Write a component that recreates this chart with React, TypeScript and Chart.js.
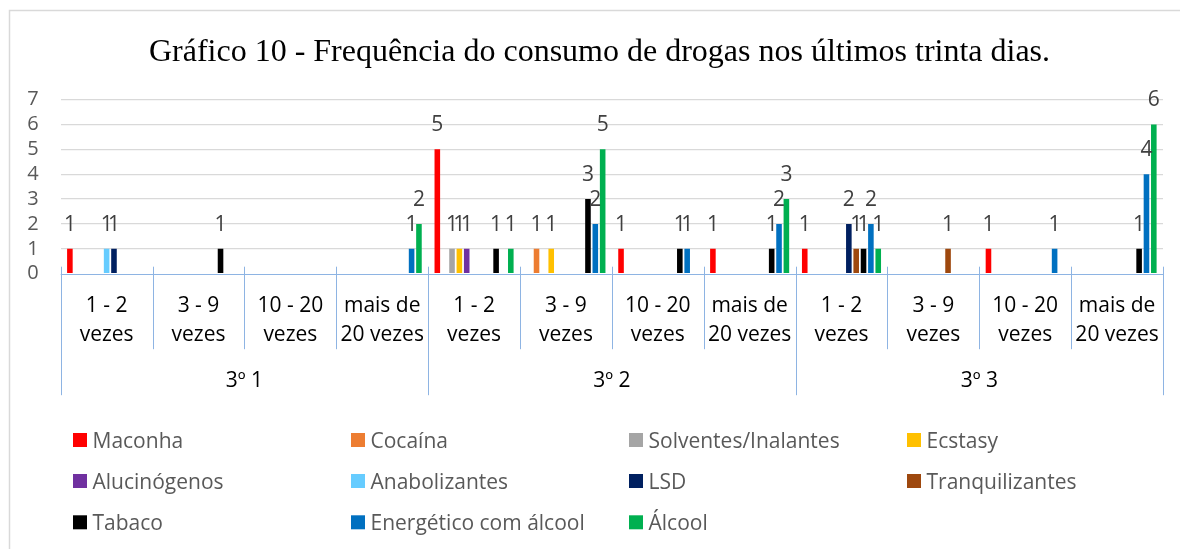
import React, { useEffect, useRef } from "react";
import { Chart, registerables } from "chart.js";

Chart.register(...registerables);

const TITLE = "Gráfico 10 - Frequência do consumo de drogas nos últimos trinta dias.";
const groups = ["3º 1", "3º 2", "3º 3"];
const subLabels = [
  ["1 - 2", "vezes"],
  ["3 - 9", "vezes"],
  ["10 - 20", "vezes"],
  ["mais de", "20 vezes"],
];
const yTicks = [0, 1, 2, 3, 4, 5, 6, 7];

const seriesNames = [
  "Maconha",
  "Cocaína",
  "Solventes/Inalantes",
  "Ecstasy",
  "Alucinógenos",
  "Anabolizantes",
  "LSD",
  "Tranquilizantes",
  "Tabaco",
  "Energético com álcool",
  "Álcool",
];
const seriesColors = [
  "#FF0000",
  "#ED7D31",
  "#A5A5A5",
  "#FFC000",
  "#7030A0",
  "#66CCFF",
  "#002060",
  "#9E480E",
  "#000000",
  "#0070C0",
  "#00B050",
];

// 12 categories: 3º1 (1-2, 3-9, 10-20, >20), 3º2 (...), 3º3 (...)
const maconha = [1, null, null, null, 5, null, 1, 1, 1, null, 1, null];
const cocaina = [null, null, null, null, null, 1, null, null, null, null, null, null];
const solventes = [null, null, null, null, 1, null, null, null, null, null, null, null];
const ecstasy = [null, null, null, null, 1, 1, null, null, null, null, null, null];
const alucinogenos = [null, null, null, null, 1, null, null, null, null, null, null, null];
const anabolizantes = [1, null, null, null, null, null, null, null, null, null, null, null];
const lsd = [1, null, null, null, null, null, null, null, 2, null, null, null];
const tranquilizantes = [null, null, null, null, null, null, null, null, 1, 1, null, null];
const tabaco = [null, 1, null, null, 1, 3, 1, 1, 1, null, null, 1];
const energetico = [null, null, null, 1, null, 2, 1, 2, 2, null, 1, 4];
const alcool = [null, null, null, 2, 1, 5, null, 3, 1, null, null, 6];

const seriesValues = [
  maconha,
  cocaina,
  solventes,
  ecstasy,
  alucinogenos,
  anabolizantes,
  lsd,
  tranquilizantes,
  tabaco,
  energetico,
  alcool,
];

const categoryLabels = groups.flatMap((g) => subLabels.map((s) => `${g} ${s.join(" ")}`));

const FONT = '"Open Sans"';
const AXIS_COLOR = "#8EB4E3";

const customPlugin = {
  id: "customDraw",
  beforeDraw(chart: any) {
    const ctx = chart.ctx;
    ctx.save();
    ctx.fillStyle = "#ffffff";
    ctx.fillRect(0, 0, chart.width, chart.height);
    ctx.strokeStyle = "#d9d9d9";
    ctx.lineWidth = 1.5;
    ctx.strokeRect(9.5, 10.5, chart.width + 20, chart.height + 20);
    ctx.fillStyle = "#000000";
    ctx.font = '32px "Liberation Serif"';
    ctx.textAlign = "center";
    ctx.textBaseline = "alphabetic";
    ctx.fillText(TITLE, 599.5, 60.7);
    ctx.restore();
  },
  afterDatasetsDraw(chart: any) {
    const ctx = chart.ctx;
    const xs = chart.scales.x;
    const area = chart.chartArea;
    const n = categoryLabels.length;
    const step = xs.getPixelForValue(1) - xs.getPixelForValue(0);
    const edge = (j: number) => xs.getPixelForValue(0) - step / 2 + j * step;
    const bottom = area.bottom;

    ctx.save();
    // axis line and separators
    ctx.strokeStyle = AXIS_COLOR;
    ctx.lineWidth = 1;
    ctx.beginPath();
    ctx.moveTo(area.left, Math.round(bottom) + 0.5);
    ctx.lineTo(area.right, Math.round(bottom) + 0.5);
    for (let j = 0; j <= n; j++) {
      const x = Math.round(edge(j)) + 0.5;
      const yEnd = j % subLabels.length === 0 ? bottom + 121.5 : bottom + 75.5;
      ctx.moveTo(x, bottom - 7);
      ctx.lineTo(x, yEnd);
    }
    ctx.stroke();

    // sub-category labels
    ctx.fillStyle = "#000000";
    ctx.font = `21px ${FONT}`;
    ctx.textAlign = "center";
    ctx.textBaseline = "alphabetic";
    for (let i = 0; i < n; i++) {
      const x = xs.getPixelForValue(i);
      const lines = subLabels[i % subLabels.length];
      ctx.fillText(lines[0], x, bottom + 38.5);
      ctx.fillText(lines[1], x, bottom + 67.3);
    }
    // group labels
    groups.forEach((g, gi) => {
      const cx = (edge(gi * 4) + edge(gi * 4 + 4)) / 2;
      ctx.fillText(g, cx, bottom + 113.6);
    });

    // data labels
    ctx.fillStyle = "#404040";
    ctx.font = `21px ${FONT}`;
    chart.data.datasets.forEach((ds: any, di: number) => {
      const meta = chart.getDatasetMeta(di);
      ds.data.forEach((v: any, i: number) => {
        if (v === null || v === undefined) return;
        const el = meta.data[i];
        ctx.fillText(String(v), el.x, el.y - 18);
      });
    });

    // legend
    const colX = [73, 351, 629, 907];
    const rowY = [440, 481, 522.3];
    ctx.font = `21px ${FONT}`;
    ctx.textAlign = "left";
    seriesNames.forEach((name, k) => {
      const c = k % 4;
      const r = Math.floor(k / 4);
      const sx = colX[c];
      const cy = rowY[r];
      ctx.fillStyle = seriesColors[k];
      ctx.fillRect(sx, cy - 7, 14, 14);
      ctx.fillStyle = "#595959";
      ctx.fillText(name, sx + 19.5, cy + 7.5);
    });
    ctx.restore();
  },
};

export default function App() {
  const canvasRef = useRef<HTMLCanvasElement | null>(null);

  useEffect(() => {
    if (!canvasRef.current) return;
    const chart = new Chart(canvasRef.current, {
      type: "bar",
      data: {
        labels: categoryLabels,
        datasets: seriesNames.map((name, k) => ({
          label: name,
          data: seriesValues[k],
          backgroundColor: seriesColors[k],
          borderWidth: 0,
          categoryPercentage: 0.88,
          barPercentage: 0.76,
        })),
      },
      options: {
        responsive: false,
        animation: false,
        layout: { padding: { top: 99.5, right: 17, left: 0, bottom: 0 } },
        plugins: {
          legend: { display: false },
          title: { display: false },
          tooltip: { enabled: false },
        },
        scales: {
          x: {
            grid: { display: false, drawTicks: false },
            border: { display: false },
            ticks: { display: false },
            afterFit: (s: any) => {
              s.height = 549 - 273.7;
            },
          },
          y: {
            min: 0,
            max: 7,
            afterBuildTicks: (s: any) => {
              s.ticks = yTicks.map((v) => ({ value: v }));
            },
            ticks: {
              stepSize: 1,
              autoSkip: false,
              color: "#595959",
              font: { family: "Open Sans", size: 20 },
              padding: 22,
            },
            grid: {
              drawTicks: false,
              color: (c: any) => (c.tick && c.tick.value === 0 ? "rgba(0,0,0,0)" : "#d9d9d9"),
              lineWidth: 1.3,
            },
            border: { display: false },
            afterFit: (s: any) => {
              s.width = 60.7;
            },
          },
        },
      },
      plugins: [customPlugin],
    });
    return () => chart.destroy();
  }, []);

  return (
    <div style={{ position: "fixed", left: 0, top: 0, width: 1180, height: 549, background: "#fff" }}>
      <canvas ref={canvasRef} width={1180} height={549} style={{ width: 1180, height: 549, display: "block" }} />
    </div>
  );
}
